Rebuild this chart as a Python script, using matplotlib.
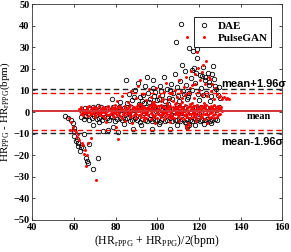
import numpy as np
import matplotlib
matplotlib.use("Agg")
import matplotlib.pyplot as plt

# ----------------------------------------------------------------
# datos (Bland-Altman, DAE vs PulseGAN)
# ----------------------------------------------------------------

# DAE: banda densa, parte baja
dae_band1_x = [63.4, 64.8, 66.0, 67.3, 68.5, 69.6, 70.9, 72.2, 73.4, 74.5, 75.8, 77.0, 78.3, 79.5, 80.6,
               81.9, 83.2, 84.3, 85.5, 86.8, 88.0, 89.2, 90.3, 91.6, 92.8, 94.0, 95.1, 96.4, 97.6, 98.7,
               100.0, 101.2, 102.4, 103.5, 104.8, 106.0, 107.2, 108.3, 109.6, 110.8, 112.0, 113.1, 114.4,
               115.6, 116.8, 117.9, 119.2, 120.4, 121.6, 122.7, 124.0, 125.2, 126.4, 127.5, 128.8]
dae_band1_y = [-2.4, -3.1, -2.0, -3.5, -2.8, -1.9, -3.3, -2.6, -3.8, -2.2, -3.0, -3.6, -2.5, -4.1, -3.2,
               -2.7, -3.9, -3.4, -2.9, -4.2, -3.5, -3.0, -3.8, -4.4, -3.3, -3.7, -4.0, -3.2, -4.3, -3.6,
               -3.9, -4.5, -3.4, -4.1, -3.7, -3.0, -4.2, -3.8, -3.5, -4.0, -3.3, -4.4, -3.9,
               -3.6, -4.1, -3.2, -3.8, -4.3, -3.5, -3.9, -3.1, -4.0, -3.6, -3.3, -3.8]
# DAE: banda densa, parte media/alta
dae_band2_x = [63.9, 65.3, 66.6, 67.9, 69.1, 70.4, 71.6, 72.8, 74.0, 75.2, 76.5, 77.7, 78.9, 80.1, 81.4,
               82.6, 83.8, 85.0, 86.2, 87.4, 88.6, 89.8, 91.0, 92.2, 93.4, 94.6, 95.8, 97.0, 98.2, 99.4,
               100.6, 101.8, 103.0, 104.2, 105.4, 106.6, 107.8, 109.0, 110.2, 111.4, 112.6, 113.8, 115.0,
               116.2, 117.4, 118.6, 119.8, 121.0, 122.2, 123.4, 124.6, 125.8, 127.0, 128.2, 129.4]
dae_band2_y = [0.5, 2.0, -0.9, 1.6, 2.2, -1.5, 0.9, 2.2, -0.4, 1.8, 1.2, -1.8, 2.5, 0.2, 2.1,
               -1.1, 1.8, 2.2, -0.6, 2.1, 0.8, -1.7, 2.4, 1.5, -0.3, 2.3, 2.0, -1.4, 2.2, 0.6,
               2.4, -0.8, 2.4, 1.1, 2.0, -1.6, 0.4, 2.0, 2.5, -0.5, 1.9, 2.2, -1.2,
               0.7, 2.4, 2.3, -0.9, 2.3, 1.4, 2.5, -0.2, 1.8, 2.0, 0.9, 2.2]
# DAE: puntos por encima de la banda
dae_up_x = [71.6, 78.4, 82.3, 84.8, 86.5, 87.9, 89.4, 90.6, 91.7, 92.9, 94.3, 95.5, 96.4, 97.8, 99.0,
            100.1, 101.3, 102.5, 103.4, 104.6, 105.7, 106.5, 107.6, 108.4, 109.3, 110.1, 110.9, 111.6,
            112.4, 113.2, 113.9, 114.7, 115.4, 116.1, 116.8, 117.6, 118.3, 119.0, 119.7, 120.5, 121.2,
            122.0, 122.7, 123.5, 124.2, 125.0, 125.8, 126.6, 127.4, 128.3, 129.1, 130.0, 88.7, 93.6,
            98.5, 103.9, 108.9, 111.9, 114.2, 117.2, 120.1, 123.0, 125.5, 127.9, 105.2, 100.8, 96.1,
            91.2, 85.7, 119.3, 121.8, 116.5, 118.8, 121.5, 124.6, 126.1, 127.0, 129.4, 115.0, 112.8,
            107.1, 102.0, 98.0, 94.9, 93.2, 110.6, 106.0]
dae_up_y = [2.9, 6.1, 4.8, 15.0, 8.2, 5.6, 10.4, 13.6, 7.1, 5.2, 11.9, 8.6, 6.0, 14.7, 9.3,
            5.7, 12.2, 7.8, 16.1, 10.5, 6.4, 13.0, 8.9, 17.4, 11.6, 7.2, 14.3, 40.8,
            9.7, 18.9, 12.4, 6.8, 29.6, 15.8, 10.1, 20.6, 13.3, 29.1, 8.5, 17.0, 11.2,
            20.8, 14.6, 9.0, 18.2, 12.7, 7.4, 21.1, 15.5, 10.8, 8.1, 6.6, 6.9, 4.4,
            7.3, 5.1, 32.6, 21.9, 6.2, 28.2, 5.5, 16.4, 4.9, 12.0, 3.8, 5.9, 4.6,
            3.6, 4.1, 24.8, 7.7, 19.5, 18.0, 16.8, 14.1, 17.8, 9.8, 11.6, 9.0, 8.3,
            6.0, 9.6, 11.0, 16.3, 8.0, 5.0, 10.0]
# DAE: cola descendente (HR bajos)
dae_tail_x = [57.3, 58.4, 59.7, 60.0, 60.1, 60.0, 61.0, 62.0, 62.0, 63.3, 64.2, 64.8, 65.8, 66.1, 66.6,
              69.3, 71.4, 61.5, 63.0, 65.3, 67.2]
dae_tail_y = [-2.6, -3.8, -5.0, -7.3, -9.0, -11.2, -13.5, -14.2, -15.8, -16.0, -16.5, -10.4, -21.1,
              -22.7, -23.8, -26.5, -21.1, -12.5, -18.0, -2.0, -14.8]
# DAE: puntos por debajo de la banda
dae_low_x = [69.3, 74.1, 76.5, 78.9, 81.3, 55.7, 88.5, 92.0, 97.5, 101.0, 106.0, 109.5, 113.9, 114.5,
             115.1, 118.0, 122.5, 126.0, 84.0, 72.0]
dae_low_y = [-5.8, -8.8, -8.1, -6.8, -9.3, -1.9, -7.8, -6.0, -7.9, -5.4, -7.8, -6.2, -5.3, -7.0,
             -6.0, -5.8, -5.5, -4.9, -5.6, -4.7]

# PulseGAN: banda densa (varias pasadas)
pg_a_x = [62.4, 63.5, 64.9, 66.1, 67.0, 68.3, 69.5, 70.4, 71.8, 72.9, 74.1, 75.0, 76.3, 77.6, 78.5,
          79.8, 80.9, 82.2, 83.1, 84.5, 85.6, 86.7, 87.9, 89.0, 90.2, 91.3, 92.5, 93.6, 94.8, 95.9,
          97.1, 98.2, 99.4, 100.5, 101.7, 102.8, 104.0, 105.1, 106.3, 107.4, 108.6, 109.7, 110.9,
          112.0, 113.2, 114.3, 115.5, 116.6, 117.8, 118.9, 120.1, 121.2, 122.4, 123.5, 124.7, 125.8,
          127.0, 128.1, 129.3, 130.4]
pg_a_y = [1.2, 2.1, 0.8, 1.9, 2.6, 1.4, 2.2, 1.7, 2.9, 1.3, 2.4, 1.8, 2.7, 1.5, 2.3,
          3.1, 1.9, 2.6, 1.4, 2.8, 2.0, 3.3, 1.6, 2.5, 2.9, 1.8, 3.0, 2.2, 1.7, 2.6,
          3.4, 2.1, 2.8, 1.6, 3.2, 2.4, 1.9, 3.0, 2.7, 2.2, 3.5, 1.8, 2.9,
          2.5, 3.1, 2.0, 3.6, 2.3, 2.8, 3.2, 1.9, 3.0, 2.6, 3.4, 2.1, 2.9,
          3.3, 2.4, 3.0, 2.2]
pg_b_x = [62.9, 64.1, 65.2, 66.6, 67.7, 68.9, 69.9, 71.2, 72.3, 73.6, 74.6, 75.8, 76.9, 78.1, 79.2,
          80.4, 81.5, 82.7, 83.8, 85.0, 86.1, 87.3, 88.4, 89.6, 90.7, 91.9, 93.0, 94.2, 95.3, 96.5,
          97.6, 98.8, 99.9, 101.1, 102.2, 103.4, 104.5, 105.7, 106.8, 108.0, 109.1, 110.3, 111.4,
          112.6, 113.7, 114.9, 116.0, 117.2, 118.3, 119.5, 120.6, 121.8, 122.9, 124.1, 125.2, 126.4,
          127.5, 128.7, 129.8, 130.9]
pg_b_y = [0.3, -0.2, 0.9, 0.1, 0.6, -0.4, 1.0, 0.2, 0.7, -0.1, 1.2, 0.4, 0.8, 0.0, 1.1,
          0.5, -0.3, 0.9, 0.2, 1.3, 0.6, -0.2, 1.0, 0.4, 0.7, 1.4, 0.1, 0.8, 0.3, 1.2,
          0.5, 0.9, -0.1, 1.1, 0.6, 0.2, 1.3, 0.7, 0.4, 1.0, 0.1, 0.8, 1.5,
          0.3, 0.9, 0.6, 1.2, 0.2, 1.0, 0.7, 1.4, 0.4, 0.8, 1.1, 0.5, 1.3,
          0.9, 0.3, 1.0, 0.6]
pg_c_x = [63.2, 64.5, 65.7, 66.9, 68.0, 69.2, 70.3, 71.5, 72.6, 73.9, 75.3, 76.5, 77.3, 78.8, 79.6,
          80.8, 82.0, 83.4, 84.2, 85.4, 86.4, 87.6, 88.8, 90.0, 91.1, 92.2, 93.4, 94.5, 95.6, 96.8,
          98.0, 99.1, 100.2, 101.4, 102.5, 103.7, 104.8, 106.0, 107.1, 108.3, 109.4, 110.6, 111.8,
          112.9, 114.0, 115.2, 116.3, 117.5, 118.6, 119.8, 120.9, 122.1, 123.2, 124.4, 125.5, 126.7,
          127.8, 129.0, 130.1]
pg_c_y = [-0.8, -1.5, -0.6, -1.9, -1.1, -0.5, -1.6, -0.9, -1.3, -2.0, -0.7, -1.4, -1.0, -1.8, -0.6,
          -1.2, -1.7, -0.8, -1.5, -1.1, -0.5, -1.9, -1.3, -0.7, -1.6, -1.0, -2.1, -0.9, -1.4, -0.6,
          -1.8, -1.2, -0.8, -1.5, -1.0, -2.0, -0.7, -1.3, -1.7, -0.9, -1.1, -1.6, -0.6,
          -1.4, -1.9, -1.0, -0.8, -1.5, -1.2, -0.7, -1.7, -1.1, -0.9, -1.4, -0.6, -1.2,
          -1.0, -1.5, -0.8]
pg_d_x = [62.7, 64.7, 66.3, 68.6, 70.8, 72.1, 73.3, 75.6, 77.9, 79.4, 81.2, 82.5, 84.8, 86.3, 88.1,
          89.3, 91.6, 92.8, 94.0, 96.2, 97.4, 99.7, 100.8, 102.0, 104.3, 105.4, 107.7, 108.9, 110.0,
          112.3, 113.5, 114.6, 116.9, 118.0, 119.2, 121.5, 122.7, 123.8, 126.1, 127.2, 128.4, 129.6,
          117.0, 111.1, 103.1, 95.0, 86.9, 74.4]
pg_d_y = [1.6, 0.4, 2.3, 0.9, 1.8, 0.2, 2.0, 1.1, 0.5, 1.7, 2.4, 0.8, 1.5, 2.2, 0.3,
          1.9, 1.2, 2.5, 0.6, 1.4, 2.0, 1.0, 2.6, 0.7, 1.6, 2.1, 0.9, 1.8, 2.4,
          1.3, 0.4, 2.2, 1.5, 0.8, 2.7, 1.1, 1.9, 0.5, 2.3, 1.4, 2.0, 1.7,
          -0.4, -0.3, -0.5, -0.2, -0.6, -0.1]
pg_e_x = [70.1, 74.8, 79.0, 83.0, 87.1, 89.8, 92.0, 94.7, 96.9, 98.5, 100.0, 101.9, 103.2, 105.0, 106.6,
          108.1, 109.8, 111.5, 112.8, 114.4, 115.8, 117.3, 118.8, 120.3, 121.6, 123.0, 124.6, 125.9,
          127.3, 128.8, 91.0, 97.8, 104.6, 110.8, 116.5, 122.5]
pg_e_y = [-2.2, -2.6, -2.1, -2.8, -2.4, -3.0, -2.3, -2.7, -3.1, -2.2, -2.9, -2.5, -3.2, -2.4, -2.8,
          -3.0, -2.3, -2.7, -3.3, -2.5, -2.9, -2.2, -3.0, -2.6, -2.4, -3.1, -2.7, -2.3,
          -2.9, -2.5, 3.6, 3.9, 4.2, 3.8, 4.4, 4.0]
pg_f_x = [63.7, 65.0, 66.4, 67.5, 68.8, 70.0, 71.0, 72.5, 73.8, 75.1, 76.2, 77.4, 78.6, 79.9, 81.0,
          82.3, 83.5, 84.7, 85.8, 87.0, 88.2, 89.4, 90.5, 91.8, 92.9, 94.1, 95.2, 96.3, 97.5, 98.6,
          99.8, 101.0, 102.1, 103.3, 104.4, 105.6, 106.7, 107.9, 109.0, 110.1, 111.2, 112.4, 113.6,
          114.7, 115.9, 117.1, 118.1, 119.3, 120.4, 121.7, 122.8, 124.0, 125.1, 126.2, 127.4, 128.5,
          129.7, 130.8]
pg_f_y = [0.9, 0.2, 1.5, -0.3, 2.0, 0.6, 1.3, -0.6, 1.9, 0.4, 2.2, 0.9, -0.5, 1.6, 0.1,
          2.4, 1.0, -0.2, 1.7, 0.5, 2.3, -0.7, 1.2, 0.3, 2.0, -0.4, 1.5, 0.8, -1.0, 2.1,
          0.6, 1.3, -0.8, 2.5, 0.2, 1.6, -0.3, 1.1, 2.2, -0.6, 0.7, 1.8, -1.1,
          0.4, 2.6, 1.0, -0.5, 1.4, 0.3, 2.1, -0.9, 0.8, 1.7, -0.2, 1.2, 0.5,
          -0.7, 0.9]
# PulseGAN: puntos por encima de la banda
pg_up_x = [80.5, 83.2, 85.9, 87.4, 89.6, 90.8, 91.7, 93.1, 94.5, 95.8, 96.9, 98.3, 99.6, 100.7, 101.8,
           103.0, 104.2, 105.5, 106.3, 107.5, 108.4, 109.6, 110.2, 111.3, 112.1, 112.9, 113.8, 114.4,
           115.3, 116.0, 116.8, 117.5, 118.3, 119.0, 119.8, 120.5, 121.3, 122.0, 122.8, 123.4, 124.1,
           124.9, 125.6, 126.3, 127.1, 127.9, 128.6, 129.4, 130.2, 131.0, 131.9, 132.8, 133.7, 134.6,
           92.3, 97.5, 102.6, 108.9, 113.4, 117.9, 121.7, 125.2, 119.4, 115.6, 111.8, 106.9, 104.8, 99.1]
pg_up_y = [5.1, 7.4, 4.6, 9.8, 6.3, 12.1, 15.0, 8.2, 5.5, 10.6, 6.9, 4.8, 11.3, 7.6, 5.3,
           9.1, 13.4, 6.2, 8.8, 5.0, 10.2, 7.1, 14.6, 9.5, 6.4, 11.8, 16.3, 34.9,
           8.7, 19.2, 12.5, 6.6, 17.4, 27.6, 10.3, 14.9, 8.1, 21.7, 12.8, 23.4, 7.5,
           16.1, 9.9, 13.2, 5.8, 11.0, 8.4, 6.9, 7.3, 6.2, 6.8, 5.9, 6.5, 6.1,
           3.9, 4.5, 5.8, 4.2, 7.9, 13.0, 18.6, 15.4, 20.3, 11.1, 4.7, 8.6, 3.6, 3.4]
# PulseGAN: cola descendente
pg_tail_x = [57.5, 58.5, 59.6, 60.2, 60.9, 61.6, 62.5, 63.7, 64.4, 65.2, 65.8, 66.9, 68.0, 66.3, 70.6,
             64.9, 62.1, 58.1]
pg_tail_y = [-3.0, -4.5, -6.8, -8.5, -9.3, -11.5, -12.8, -14.2, -15.5, -17.8, -25.0, -14.2, -12.0,
             -20.0, -31.6, -19.5, -10.4, -8.5]
# PulseGAN: puntos por debajo de la banda
pg_low_x = [75.5, 80.2, 84.6, 88.0, 93.5, 99.0, 106.0, 110.5, 113.8, 114.3, 115.2, 114.9, 118.5, 124.0, 81.0]
pg_low_y = [-4.5, -6.9, -4.1, -5.2, -3.8, -5.0, -4.6, -4.0, -6.5, -7.6, -6.0, -5.0, -4.3, -4.9, -12.5]

# lineas de media y limites de acuerdo (media +- 1.96 sigma)
dae_mean, dae_sup, dae_inf = 0.3, 10.7, -9.9
pg_mean, pg_sup, pg_inf = 0.3, 9.0, -8.4

# ----------------------------------------------------------------
# juntar los pedazos de cada serie
dae_x = np.concatenate([dae_band1_x, dae_band2_x, dae_up_x, dae_tail_x, dae_low_x])
dae_y = np.concatenate([dae_band1_y, dae_band2_y, dae_up_y, dae_tail_y, dae_low_y])
pg_x = np.concatenate([pg_a_x, pg_b_x, pg_c_x, pg_d_x, pg_e_x, pg_f_x, pg_up_x, pg_tail_x, pg_low_x])
pg_y = np.concatenate([pg_a_y, pg_b_y, pg_c_y, pg_d_y, pg_e_y, pg_f_y, pg_up_y, pg_tail_y, pg_low_y])

# ***** estilo (tipo Times en negritas, como Matlab) *****
plt.rcParams["font.family"] = "Liberation Serif"
plt.rcParams["font.weight"] = "bold"

fig = plt.figure(figsize=(2.91, 2.52), dpi=100)
ax = fig.add_axes([0.111, 0.127, 0.859, 0.857])

# graficar
ax.plot(dae_x, dae_y, "o", mfc="none", mec="black", ms=3.2, mew=0.6, label="DAE")
ax.plot(pg_x, pg_y, ".", color="red", ms=4.3, mew=0, label="PulseGAN")

ax.axhline(dae_mean, color="black", lw=1.2)
ax.axhline(pg_mean, color="#e8383b", lw=1.3)
ax.axhline(dae_sup, color="#222222", lw=1.0, ls=(0, (4, 2.5)))
ax.axhline(pg_sup, color="red", lw=1.0, ls=(0, (4, 2.5)))
ax.axhline(dae_inf, color="#222222", lw=1.0, ls=(0, (4, 2.5)))
ax.axhline(pg_inf, color="red", lw=1.0, ls=(0, (4, 2.5)))

# textos
ax.text(130.7, 13.1, "mean+1.96σ", family="Liberation Sans", weight="bold", fontsize=8, va="center")
ax.text(148.8, -2.1, "mean", fontsize=7.5, ha="center", va="center")
ax.text(130.7, -14.0, "mean-1.96σ", family="Liberation Sans", weight="bold", fontsize=8, va="center")

ax.set_xlim(40, 160)
ax.set_ylim(-50, 50)
ax.set_xticks([40, 60, 80, 100, 120, 140, 160])
ax.set_yticks([-50, -40, -30, -20, -10, 0, 10, 20, 30, 40, 50])
ax.tick_params(direction="in", top=True, right=True, length=2.5, width=0.5, labelsize=7.5, pad=2)
for s in ax.spines.values():
    s.set_linewidth(0.6)
    s.set_color("#333333")

ax.set_xlabel(r"(HR$_{\mathregular{rPPG}}$ + HR$_{\mathregular{PPG}}$)/2(bpm)", fontsize=8.5, labelpad=1)
ax.set_ylabel(r"HR$_{\mathregular{PPG}}$ - HR$_{\mathregular{rPPG}}$(bpm)", fontsize=8)
ax.yaxis.set_label_coords(-0.08, 0.5)

leg = ax.legend(loc="upper right", bbox_to_anchor=(0.979, 0.965), fontsize=8, fancybox=False,
                edgecolor="black", framealpha=1, handlelength=1.2, handletextpad=0.6,
                borderpad=0.35, labelspacing=0.25)
leg.get_frame().set_linewidth(0.6)

fig.savefig("out.png", dpi=100)
